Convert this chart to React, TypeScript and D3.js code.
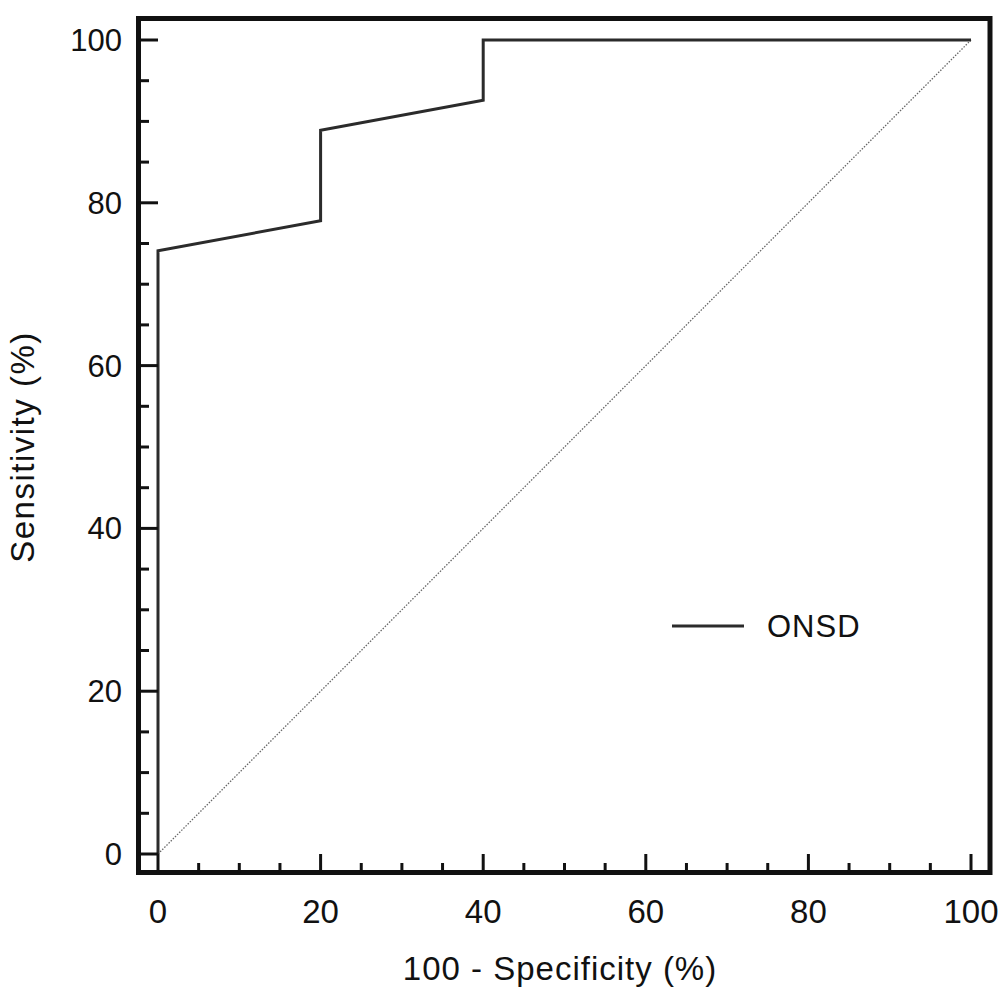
import React, { useEffect, useRef } from "react";
import * as d3 from "d3";

// ROC curve points (100 - specificity, sensitivity)
const fprValues = [0, 0, 20, 20, 40, 40, 100];
const tprValues = [0, 74.1, 77.8, 88.9, 92.6, 100, 100];
const majorTicks = [0, 20, 40, 60, 80, 100];
const minorTicks = d3.range(0, 101, 5).filter((d) => d % 20 !== 0);
const seriesName = "ONSD";
const xTitle = "100 - Specificity (%)";
const yTitle = "Sensitivity (%)";

const App = () => {
  const chartRef = useRef<SVGSVGElement | null>(null);

  useEffect(() => {
    drawChart();
  }, []);

  const drawChart = () => {
    const width = 1004;
    const height = 994;
    const frame = { left: 138.5, right: 990, top: 18.5, bottom: 872.5 };
    const font = "'Liberation Sans', Arial, sans-serif";

    const svg = d3
      .select(chartRef.current)
      .attr("width", width)
      .attr("height", height);
    svg.selectAll("*").remove();

    svg.append("rect").attr("width", width).attr("height", height).attr("fill", "#fff");

    const x = d3.scaleLinear().domain([0, 100]).range([158, 971]);
    const y = d3.scaleLinear().domain([0, 100]).range([854, 40]);

    // diagonal reference line
    svg
      .append("line")
      .attr("x1", x(0))
      .attr("y1", y(0))
      .attr("x2", x(100))
      .attr("y2", y(100))
      .attr("stroke", "#666")
      .attr("stroke-width", 1.3)
      .attr("stroke-dasharray", "1.5,1.5");

    // ROC curve
    const pts = fprValues.map((d, i) => [d, tprValues[i]] as [number, number]);
    const line = d3
      .line<[number, number]>()
      .x((d) => x(d[0]))
      .y((d) => y(d[1]));
    svg
      .append("path")
      .attr("d", line(pts))
      .attr("fill", "none")
      .attr("stroke", "#2b2b2b")
      .attr("stroke-width", 3)
      .attr("stroke-linejoin", "miter");

    // frame
    svg
      .append("rect")
      .attr("x", frame.left)
      .attr("y", frame.top)
      .attr("width", frame.right - frame.left)
      .attr("height", frame.bottom - frame.top)
      .attr("fill", "none")
      .attr("stroke", "#111")
      .attr("stroke-width", 5);

    // y ticks (inward)
    const yTicks = svg.append("g").attr("stroke", "#111").attr("stroke-width", 3);
    majorTicks.forEach((t) => {
      yTicks.append("line").attr("x1", frame.left).attr("x2", 158).attr("y1", y(t)).attr("y2", y(t));
    });
    minorTicks.forEach((t) => {
      yTicks.append("line").attr("x1", frame.left).attr("x2", 149).attr("y1", y(t)).attr("y2", y(t));
    });

    // x ticks (inward)
    const xTicks = svg.append("g").attr("stroke", "#111").attr("stroke-width", 3);
    majorTicks.forEach((t) => {
      xTicks.append("line").attr("x1", x(t)).attr("x2", x(t)).attr("y1", frame.bottom).attr("y2", 854);
    });
    minorTicks.forEach((t) => {
      xTicks.append("line").attr("x1", x(t)).attr("x2", x(t)).attr("y1", frame.bottom).attr("y2", 863);
    });

    // tick labels
    svg
      .append("g")
      .selectAll("text")
      .data(majorTicks)
      .enter()
      .append("text")
      .attr("x", 122)
      .attr("y", (d) => y(d) + 11)
      .attr("text-anchor", "end")
      .attr("font-family", font)
      .attr("font-size", 31)
      .attr("fill", "#111")
      .text((d) => d);

    svg
      .append("g")
      .selectAll("text")
      .data(majorTicks)
      .enter()
      .append("text")
      .attr("x", (d) => x(d))
      .attr("y", 923)
      .attr("text-anchor", "middle")
      .attr("font-family", font)
      .attr("font-size", 33)
      .attr("fill", "#111")
      .text((d) => d);

    // axis titles
    svg
      .append("text")
      .attr("x", 560)
      .attr("y", 980)
      .attr("text-anchor", "middle")
      .attr("font-family", font)
      .attr("font-size", 33)
      .attr("letter-spacing", 1)
      .attr("fill", "#111")
      .text(xTitle);

    svg
      .append("text")
      .attr("transform", `translate(34,447) rotate(-90)`)
      .attr("text-anchor", "middle")
      .attr("font-family", font)
      .attr("font-size", 33)
      .attr("letter-spacing", 1.5)
      .attr("fill", "#111")
      .text(yTitle);

    // legend
    svg
      .append("line")
      .attr("x1", 672)
      .attr("x2", 744)
      .attr("y1", 626)
      .attr("y2", 626)
      .attr("stroke", "#2b2b2b")
      .attr("stroke-width", 3);
    svg
      .append("text")
      .attr("x", 767)
      .attr("y", 637)
      .attr("font-family", font)
      .attr("font-size", 31)
      .attr("letter-spacing", 1)
      .attr("fill", "#111")
      .text(seriesName);
  };

  return (
    <svg ref={chartRef} style={{ position: "absolute", left: 0, top: 0, display: "block" }}></svg>
  );
};

export default App;
